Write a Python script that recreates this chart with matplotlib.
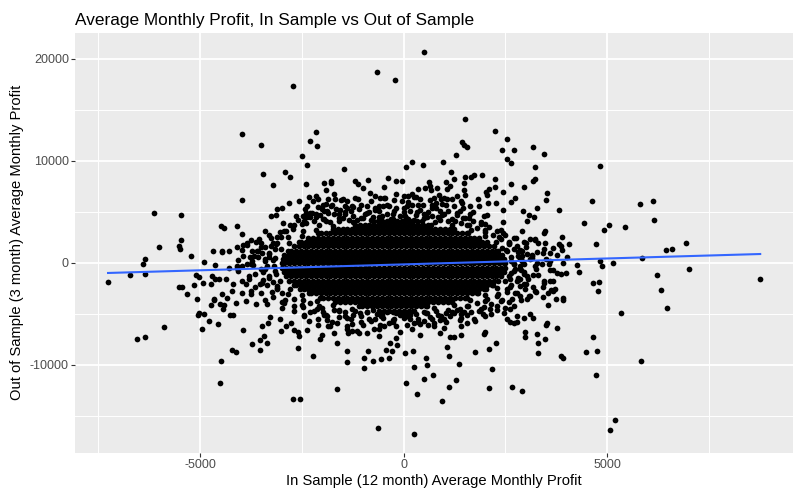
import matplotlib
matplotlib.use("Agg")
import matplotlib.pyplot as plt
import numpy as np

# ---------------------------------------------------------------------------
# Data (in sample profit, out of sample profit)
# ---------------------------------------------------------------------------
far_top = [
    (492, 20683), (-662, 18723), (-220, 17938), (-2724, 17350), (1498, 14115),
    (2234, 12938), (-3975, 12644), (-2159, 12840), (2528, 12154), (-2290, 11958),
    (-2134, 11468), (-3509, 11566), (1424, 11860), (1473, 11566), (1547, 11370),
    (2406, 11075), (2700, 11075), (3191, 11370), (3437, 10683), (1277, 10585),
    (-2497, 10487), (2536, 10193), (2627, 9801), (-2385, 9605), (50, 9409),
    (197, 9899), (467, 9605), (958, 9899), (3240, 9409), (4834, 9510),
    (-1472, 9213), (-3460, 8722), (-2920, 8918), (-2797, 8428), (1154, 8918),
    (1498, 8428), (1645, 8428), (1719, 8624), (1915, 8624), (2234, 8232),
    (-883, 8134), (-392, 8330), (1228, 8232), (3240, 8232), (3190, 8010),
]

upper_ring = [
    (-3214, 7644), (-2404, 7740), (-1962, 7840), (-1790, 8000), (-1790, 7800),
    (-1185, 7970), (-1120, 7740), (-1005, 7317), (-195, 7970), (-48, 7970),
    (-490, 7450), (2648, 7750), (2949, 7430), (-3966, 6173), (3535, 6860),
    (3510, 6100), (3813, 5160), (2742, 6340), (2643, 5980), (2921, 5095),
    (3085, 4637), (3020, 4080), (3208, 4500), (3282, 5390), (3470, 3100),
    (3453, 2905), (2430, 6925), (2251, 7450), (2071, 5880), (2259, 5880),
    (2447, 5160), (2030, 6960), (2046, 6630), (2095, 7190), (1833, 6200),
    (1490, 7840), (1490, 7120), (1506, 6600), (1425, 5815), (1629, 5550),
    (1637, 4770), (1146, 7515), (1032, 7940), (1065, 7190), (1302, 6566),
    (820, 7350), (870, 6600), (910, 6200), (950, 5715), (1065, 6200),
    (1195, 6270), (1228, 5550), (631, 7940), (656, 7480), (664, 7120),
    (754, 6340), (803, 5880), (705, 5685), (361, 7190), (533, 7350),
    (247, 6440), (394, 6200), (476, 5620), (17, 6566), (107, 6530),
    (206, 6730), (107, 5950), (-179, 6700), (-236, 6110), (-350, 5550),
    (-482, 6340), (-571, 6370), (-694, 6530), (-817, 6860), (-899, 5550),
    (-1111, 6200), (-1267, 5550), (-1430, 5550), (-1487, 6270), (-1397, 6040),
    (-1700, 6700), (-1692, 6200), (-1905, 7120), (-1864, 6270), (-1913, 5745),
    (-1790, 5550), (-2142, 6530), (-2216, 6000), (-2314, 6470), (-2256, 4900),
    (-2109, 6200), (-1986, 5685), (-1864, 4900), (-1651, 5290), (-1553, 5130),
    (-2575, 6080), (-2428, 5225), (-2371, 5550), (-2404, 4900), (-2633, 4570),
    (-2698, 3720), (-2829, 5880), (-2993, 5390), (-3115, 5225), (-3148, 4640),
    (-2723, 3265), (-2371, 4500), (-2150, 4735), (-2003, 5225), (-2935, 3100),
    (-3025, 2480), (-3107, 1960),
]

far_right = [
    (4640, 6075), (5817, 5781), (6136, 6075), (6161, 4212), (5449, 3526),
    (5057, 3722), (4934, 3232), (4443, 3918), (3903, 2546), (4075, 1860),
    (3870, 1630), (3887, 1271), (4738, 1860), (4026, 585), (3928, 6),
    (4271, -200), (4320, -885), (4001, -983), (3870, -1082), (4836, 160),
    (4885, -297), (5155, 0), (5866, 486), (6456, 1271), (6603, 1369),
    (6946, 1957), (7020, -591), (8762, -1572), (6235, -1180), (6333, -2650),
    (6480, -4415), (4664, -1964), (4811, -1866), (4787, -2748), (3928, -3435),
    (3928, -3696), (5351, -4905), (4664, -7258), (4492, -8729), (4762, -8631),
    (3870, -9154), (3928, -9350), (5842, -9611), (4738, -10984), (5204, -15396),
    (5081, -16376),
]

right_ring = [
    (3478, 1958), (3682, 1467), (3829, 1794), (3216, 2284), (3314, 1958),
    (3110, 2284), (2946, 2023), (2782, 1631), (3273, 1043), (3028, 813),
    (2905, 650), (2864, 389), (3110, 324), (3150, 716), (3420, 912),
    (3600, 977), (3780, 716), (2537, 1140), (2414, 1467), (2578, 2023),
    (3559, -4120), (3420, -3337), (3739, -3598), (3666, -2781), (3600, -1800),
    (3666, -1833), (3723, -2617), (3625, -2683), (3420, -2356), (3191, -2356),
    (3093, -3271), (2987, -2617), (2864, -1637), (2782, -1800), (3764, -985),
    (3666, -755), (3584, -100), (3396, -100), (3273, 0), (2946, -918),
    (3028, -1310), (2864, -2291), (2782, -2944), (3028, -3598), (3069, -3271),
    (2660, -3598), (2700, -4251), (2619, -4578), (2782, -5232), (2946, -5395),
    (3110, -5068), (3191, -5395), (2455, -4905), (2537, -5559), (1964, -7030),
    (2006, -6800), (1735, -5559), (2006, -5232), (2128, -4513), (2292, -4251),
    (2619, -1572), (2864, -657), (2741, -657), (2700, -167), (3780, -6376),
    (3502, -6147), (3518, -5950), (3273, -7030), (2987, -6800), (2987, -7258),
    (2700, -5886), (2782, -5820), (2619, -5820),
]

lower_ring = [
    (-2723, -13400), (-2551, -13340), (-3042, -5493), (-3025, -6700), (-2903, -6210),
    (-2600, -8336), (-2575, -7190), (-2600, -6768), (-2780, -5885), (-2698, -6600),
    (-2371, -6600), (-2224, -9153), (-2109, -6147), (-2044, -7520), (-2003, -7127),
    (-1864, -6210), (-1700, -6866), (-1635, -7910), (-1643, -12420), (-1397, -8630),
    (-1397, -9710), (-1373, -6930), (-1267, -6700), (-980, -10300), (-980, -9320),
    (-882, -8660), (-760, -9610), (-563, -9480), (-367, -9320), (-285, -8660),
    (-432, -8565), (-490, -6210), (-637, -16180), (-326, -7850), (-187, -7360),
    (-162, -8110), (26, -8826), (50, -11770), (247, -16770), (263, -10200),
    (230, -8630), (320, -12850), (492, -11376), (582, -10000), (541, -9320),
    (713, -10980), (934, -13530), (1114, -12160), (1114, -9153), (1065, -8240),
    (1277, -11470), (1367, -9900), (1130, -7258), (1245, -7320), (1400, -7060),
    (1744, -8730), (2087, -8500), (2161, -10400), (2259, -7850), (2087, -12260),
    (2651, -12160), (2905, -12550), (3290, -7846), (3314, -8826), (3486, -7520),
    (-3107, -2617), (-2944, -3924), (-2698, -4741), (-2453, -5232), (-2330, -5722),
    (-2126, -4578), (-1880, -5232), (-1635, -5885), (-1389, -6212), (-1144, -6702),
    (-899, -6866), (-735, -6539), (-244, -5558), (83, -5232), (247, -5885),
    (492, -5722), (737, -6212), (983, -5558), (1228, -4905), (1392, -4578),
    (1555, -5885),
]

left_ring = [
    (-6135, 4899), (-5472, 4703), (-3263, 4605), (-4490, 3624), (-4409, 3428),
    (-4098, 3624), (-3967, 2840), (-5472, 2251), (-5521, 1630), (-5489, 1369),
    (-6012, 1565), (-6347, 389), (-6405, -100), (-6356, -1082), (-6724, -1245),
    (-7264, -1866), (-5235, 618), (-4908, 95), (-4687, 1108), (-4474, 1108),
    (-4458, 1075), (-4294, 1108), (-4098, 1533), (-3951, 1761), (-3844, 1696),
    (-3722, 1140), (-3640, 2022), (-3509, 1925), (-3574, 1140), (-3787, 552),
    (-3722, 160), (-3590, 585), (-3476, 976), (-3312, 585), (-4638, -200),
    (-4294, -493), (-4090, -526), (-3967, -330), (-3844, -134), (-5521, -2356),
    (-5456, -2356), (-5153, -2226), (-5096, -1245), (-5030, -1376), (-4932, -1964),
    (-4744, -2127), (-4638, -1637), (-4703, -1310), (-4540, -1637), (-4376, -1637),
    (-5333, -3042), (-5088, -3533), (-4663, -3598), (-4458, -3042), (-4335, -3435),
    (-4213, -2781), (-4131, -3925), (-3967, -2944), (-3885, -3761), (-3763, -3108),
    (-3640, -4088), (-3885, -2127), (-3804, -1637), (-3476, -1964), (-5889, -6278),
    (-6356, -7258), (-6552, -7454), (-4490, -9611), (-4515, -11768), (-4957, -6474),
    (-4785, -5689), (-4564, -5984), (-5047, -5167), (-4908, -5003), (-5030, -4905),
    (-3951, -6572), (-4221, -8533), (-4131, -8729), (-3730, -7945), (-3533, -8533),
    (-3525, -7552), (-3427, -7225), (-3353, -7912), (-3337, -5885), (-3288, -5297),
    (-3484, -6180), (-4441, -4578), (-4409, -4186), (-4523, -4023), (-4736, -4121),
    (-4261, -5101), (-4196, -5101), (-4662, -3663), (-3370, -4088),
]

core_edge = [
    (-2800, 3700), (-2600, 4200), (-2400, 3900), (-2300, 4500), (-2200, 4100),
    (-2050, 4700), (-1950, 4300), (-1800, 3950), (-1700, 4800), (-1600, 4400),
    (-1450, 5000), (-1350, 4200), (-1250, 4600), (-1100, 5300), (-1000, 4400),
    (-900, 4900), (-800, 4200), (-700, 5200), (-600, 4500), (-500, 5600),
    (-400, 4800), (-300, 4300), (-200, 5400), (-100, 4600), (0, 5000),
    (100, 4300), (200, 5700), (300, 4700), (400, 5200), (500, 4400),
    (600, 5000), (700, 4600), (800, 5400), (900, 4200), (1000, 4800),
    (1100, 5100), (1200, 4300), (1300, 4700), (1400, 3900), (1500, 4400),
    (1600, 3700), (1700, 4100), (1800, 3400), (1900, 3800), (2000, 3000),
    (2100, 3500), (2200, 2700), (2300, 3100), (2400, 2300), (2500, 2700),
    (-2700, -3600), (-2500, -4200), (-2300, -4000), (-2200, -4700), (-2000, -4400),
    (-1900, -5100), (-1700, -4600), (-1600, -5300), (-1450, -4800), (-1300, -5500),
    (-1200, -4700), (-1050, -5200), (-900, -4800), (-800, -5700), (-650, -5000),
    (-500, -5400), (-400, -4800), (-250, -5800), (-100, -5100), (50, -4800),
    (150, -5500), (300, -5000), (400, -6000), (550, -4900), (650, -5300),
    (800, -4700), (900, -5600), (1050, -4900), (1150, -5200), (1300, -4600),
    (1400, -5000), (1550, -4300), (1650, -4800), (1800, -4000), (1900, -4500),
    (2050, -3600), (2150, -4100), (2300, -3300), (2400, -3800), (2550, -2900),
    (-3100, 2500), (-3200, 1900), (-3150, 1300), (-3300, 800), (-3200, 300),
    (-3350, -300), (-3150, -800), (-3300, -1300), (-3200, -1900), (-3100, -2500),
    (-3000, -3000), (-3400, 1500), (-3450, -900), (-3050, 3000),
    (2600, 1900), (2700, 1300), (2800, 700), (2650, 200), (2850, -300),
    (2700, -800), (2600, -1300), (2800, -1700), (2650, -2200), (2550, -2600),
    (2900, 1100), (2950, -1100),
]

# crowded fringe just outside the solid centre
fringe = [
    (2700, -150), (2640, 560), (2520, 1250), (2280, 2050), (2010, 2600),
    (1650, 3230), (1200, 3700), (760, 3950), (250, 4200), (-260, 4280),
    (2900, 120), (2820, 1000), (2600, 1820), (2350, 2480), (1990, 3200),
    (1550, 3720), (1100, 4100), (570, 4450), (30, 4560),
    (3220, -300), (3150, 700), (3010, 1520), (2760, 2380), (2390, 3170),
    (1990, 3780), (1470, 4360), (940, 4700), (340, 5000), (-240, 5080),
    (3600, 200), (3450, 1300), (3240, 2250), (2920, 3100), (2450, 3950),
    (1970, 4540), (1390, 5050), (730, 5470), (90, 5600),
    (-3190, -350), (-3160, 480), (-3020, 1300), (-2810, 1960), (-2500, 2660),
    (-2150, 3170), (-1730, 3620), (-1250, 4000), (-770, 4150),
    (-3400, 200), (-3300, 950), (-3130, 1800), (-2850, 2540), (-2480, 3150),
    (-2080, 3730), (-1600, 4100), (-1060, 4400), (-540, 4600),
    (-3700, -200), (-3680, 620), (-3500, 1580), (-3260, 2420), (-2900, 3120),
    (-2490, 3830), (-1980, 4300), (-1450, 4750), (-850, 4940),
    (-4070, 300), (-3980, 1230), (-3750, 2200), (-3400, 3150), (-2960, 3880),
    (-2470, 4600), (-1890, 5050), (-1240, 5470), (-600, 5580),
    (-3140, -1080), (-3030, -1780), (-2790, -2550), (-2510, -3150), (-2140, -3750),
    (-1730, -4150), (-1270, -4520), (-760, -4680), (-250, -4800),
    (-3410, -650), (-3300, -1550), (-3120, -2290), (-2850, -3070), (-2480, -3700),
    (-2070, -4210), (-1580, -4680), (-1080, -4930), (-520, -5100),
    (-3660, -1150), (-3520, -2100), (-3240, -2900), (-2910, -3700), (-2470, -4350),
    (-1990, -4840), (-1430, -5280), (-860, -5480), (-260, -5600),
    (-4080, -800), (-3960, -1820), (-3740, -2740), (-3410, -3680), (-2980, -4420),
    (-2450, -5120), (-1880, -5600), (-1260, -5990), (-580, -6150),
    (2650, -1020), (2500, -1830), (2300, -2500), (2010, -3180), (1630, -3700),
    (1230, -4190), (750, -4480), (260, -4730),
    (2890, -720), (2810, -1500), (2620, -2340), (2330, -3030), (1990, -3720),
    (1570, -4250), (1080, -4640), (570, -4970), (20, -5080),
    (3170, -1200), (3000, -2060), (2740, -2950), (2410, -3660), (1970, -4360),
    (1490, -4850), (920, -5270), (360, -5520),
    (3590, -760), (3450, -1800), (3240, -2780), (2890, -3630), (2480, -4450),
    (1950, -5080), (1380, -5640), (750, -5950), (90, -6160),
]

# second, looser fringe above, below and beside the centre
fringe_outer = [
    (-2450, 4100), (-2150, 4450), (-1900, 4050), (-1500, 4350), (-1150, 4150),
    (-750, 4450), (-350, 4050), (50, 4400), (450, 4100), (850, 4450),
    (1250, 4050), (1600, 4350), (1900, 4000),
    (-2300, 4900), (-1950, 5100), (-1600, 4750), (-1300, 5050), (-950, 4800),
    (-600, 5100), (-250, 4750), (150, 5050), (500, 4800), (900, 5100),
    (1300, 4850), (1700, 5000), (2050, 4700),
    (-2100, 5450), (-1750, 5700), (-1400, 5350), (-1050, 5650), (-700, 5400),
    (-400, 5700), (0, 5350), (350, 5650), (700, 5400), (1050, 5700),
    (1450, 5350), (1850, 5600),
    (-1550, 6100), (-1200, 6350), (-800, 6000), (-450, 6300), (-50, 6050),
    (300, 6400), (650, 6100), (1000, 6350), (1400, 6000),
    (-2300, -4800), (-1950, -5150), (-1600, -4750), (-1250, -5100), (-900, -4850),
    (-550, -5200), (-200, -4900), (150, -5150), (500, -4800), (850, -5150),
    (1200, -4850), (1550, -5100), (1850, -4750), (2150, -5000),
    (-2100, -5500), (-1750, -5850), (-1400, -5450), (-1050, -5800), (-700, -5500),
    (-350, -5900), (0, -5450), (350, -5800), (700, -5500), (1050, -5850),
    (1400, -5450), (1750, -5700),
    (-1800, -6200), (-1400, -6550), (-1000, -6150), (-600, -6500), (-200, -6200),
    (200, -6550), (600, -6150), (1000, -6450), (1400, -6250),
    (-1100, -6900), (-600, -7150), (-100, -6850), (400, -7100), (900, -6900),
    (-3300, 2700), (-3550, 2300), (-3250, 1650), (-3600, 1100), (-3400, 400),
    (-3750, -100), (-3500, -600), (-3800, -1300), (-3450, -1700), (-3650, -2400),
    (-3350, -2200), (-3500, -3000), (-3200, -3400), (-3000, -3900), (-2700, -4300),
    (-3950, 700), (-3850, 1900), (-4200, -2100), (-4100, -300),
    (2700, 2400), (3000, 1900), (2850, 1200), (3150, 500), (2950, -100),
    (3250, -600), (3050, -1600), (3300, -1200), (2950, -2100), (3250, -2900),
    (2850, -3300), (2600, -3900), (2300, -4600), (3500, 400), (3450, -2000),
    (2450, 2900), (3550, -3000),
]

# the solid black centre: overlapping points, one row per out of sample level
core_y = [4120, 3700, 3280, 2860, 2440, 2020, 1600, 1180, 760, 340, -80,
          -500, -920, -1340, -1760, -2180, -2600, -3020, -3440, -3860, -4280, -4700]
core_x = [
    [-760, -640, -520, -400, -280, -160, -40, 80, 200, 320],
    [-1200, -1080, -960, -840, -720, -600, -480, -360, -240, -120, 0, 120, 240, 360, 480, 600, 680],
    [-1740, -1620, -1500, -1380, -1260, -1140, -1020, -900, -780, -660, -540, -420, -300, -180, -60,
     60, 180, 300, 420, 540, 660, 780, 900, 1020, 1140, 1235],
    [-2100, -2040, -1920, -1800, -1680, -1560, -1440, -1320, -1200, -1080, -960, -840, -720, -600,
     -480, -360, -240, -120, 0, 120, 240, 360, 480, 600, 720, 840, 960, 1080, 1200, 1320, 1440,
     1560, 1590],
    [-2340, -2220, -2100, -1980, -1860, -1740, -1620, -1500, -1380, -1260, -1140, -1020, -900, -780,
     -660, -540, -420, -300, -180, -60, 60, 180, 300, 420, 540, 660, 780, 900, 1020, 1140, 1260,
     1380, 1500, 1620, 1740, 1860],
    [-2565, -2520, -2400, -2280, -2160, -2040, -1920, -1800, -1680, -1560, -1440, -1320, -1200,
     -1080, -960, -840, -720, -600, -480, -360, -240, -120, 0, 120, 240, 360, 480, 600, 720, 840,
     960, 1080, 1200, 1320, 1440, 1560, 1680, 1800, 1920, 2040],
    [-2700, -2580, -2460, -2340, -2220, -2100, -1980, -1860, -1740, -1620, -1500, -1380, -1260,
     -1140, -1020, -900, -780, -660, -540, -420, -300, -180, -60, 60, 180, 300, 420, 540, 660, 780,
     900, 1020, 1140, 1260, 1380, 1500, 1620, 1740, 1860, 1980, 2100, 2220],
    [-2835, -2760, -2640, -2520, -2400, -2280, -2160, -2040, -1920, -1800, -1680, -1560, -1440,
     -1320, -1200, -1080, -960, -840, -720, -600, -480, -360, -240, -120, 0, 120, 240, 360, 480,
     600, 720, 840, 960, 1080, 1200, 1320, 1440, 1560, 1680, 1800, 1920, 2040, 2160, 2280, 2330],
    [-2940, -2820, -2700, -2580, -2460, -2340, -2220, -2100, -1980, -1860, -1740, -1620, -1500,
     -1380, -1260, -1140, -1020, -900, -780, -660, -540, -420, -300, -180, -60, 60, 180, 300, 420,
     540, 660, 780, 900, 1020, 1140, 1260, 1380, 1500, 1620, 1740, 1860, 1980, 2100, 2220, 2340,
     2415],
    [-2975, -2880, -2760, -2640, -2520, -2400, -2280, -2160, -2040, -1920, -1800, -1680, -1560,
     -1440, -1320, -1200, -1080, -960, -840, -720, -600, -480, -360, -240, -120, 0, 120, 240, 360,
     480, 600, 720, 840, 960, 1080, 1200, 1320, 1440, 1560, 1680, 1800, 1920, 2040, 2160, 2280,
     2400, 2470],
    [-3000, -2940, -2820, -2700, -2580, -2460, -2340, -2220, -2100, -1980, -1860, -1740, -1620,
     -1500, -1380, -1260, -1140, -1020, -900, -780, -660, -540, -420, -300, -180, -60, 60, 180, 300,
     420, 540, 660, 780, 900, 1020, 1140, 1260, 1380, 1500, 1620, 1740, 1860, 1980, 2100, 2220,
     2340, 2460, 2495],
    [-3000, -2880, -2760, -2640, -2520, -2400, -2280, -2160, -2040, -1920, -1800, -1680, -1560,
     -1440, -1320, -1200, -1080, -960, -840, -720, -600, -480, -360, -240, -120, 0, 120, 240, 360,
     480, 600, 720, 840, 960, 1080, 1200, 1320, 1440, 1560, 1680, 1800, 1920, 2040, 2160, 2280,
     2400, 2490],
    [-2940, -2820, -2700, -2580, -2460, -2340, -2220, -2100, -1980, -1860, -1740, -1620, -1500,
     -1380, -1260, -1140, -1020, -900, -780, -660, -540, -420, -300, -180, -60, 60, 180, 300, 420,
     540, 660, 780, 900, 1020, 1140, 1260, 1380, 1500, 1620, 1740, 1860, 1980, 2100, 2220, 2340,
     2460],
    [-2880, -2760, -2640, -2520, -2400, -2280, -2160, -2040, -1920, -1800, -1680, -1560, -1440,
     -1320, -1200, -1080, -960, -840, -720, -600, -480, -360, -240, -120, 0, 120, 240, 360, 480,
     600, 720, 840, 960, 1080, 1200, 1320, 1440, 1560, 1680, 1800, 1920, 2040, 2160, 2280, 2400],
    [-2820, -2700, -2580, -2460, -2340, -2220, -2100, -1980, -1860, -1740, -1620, -1500, -1380,
     -1260, -1140, -1020, -900, -780, -660, -540, -420, -300, -180, -60, 60, 180, 300, 420, 540,
     660, 780, 900, 1020, 1140, 1260, 1380, 1500, 1620, 1740, 1860, 1980, 2100, 2220, 2320],
    [-2700, -2640, -2520, -2400, -2280, -2160, -2040, -1920, -1800, -1680, -1560, -1440, -1320,
     -1200, -1080, -960, -840, -720, -600, -480, -360, -240, -120, 0, 120, 240, 360, 480, 600, 720,
     840, 960, 1080, 1200, 1320, 1440, 1560, 1680, 1800, 1920, 2040, 2160, 2195],
    [-2540, -2460, -2340, -2220, -2100, -1980, -1860, -1740, -1620, -1500, -1380, -1260, -1140,
     -1020, -900, -780, -660, -540, -420, -300, -180, -60, 60, 180, 300, 420, 540, 660, 780, 900,
     1020, 1140, 1260, 1380, 1500, 1620, 1740, 1860, 1980, 2035],
    [-2335, -2280, -2160, -2040, -1920, -1800, -1680, -1560, -1440, -1320, -1200, -1080, -960, -840,
     -720, -600, -480, -360, -240, -120, 0, 120, 240, 360, 480, 600, 720, 840, 960, 1080, 1200,
     1320, 1440, 1560, 1680, 1800, 1830],
    [-2060, -1980, -1860, -1740, -1620, -1500, -1380, -1260, -1140, -1020, -900, -780, -660, -540,
     -420, -300, -180, -60, 60, 180, 300, 420, 540, 660, 780, 900, 1020, 1140, 1260, 1380, 1500,
     1555],
    [-1680, -1560, -1440, -1320, -1200, -1080, -960, -840, -720, -600, -480, -360, -240, -120, 0,
     120, 240, 360, 480, 600, 720, 840, 960, 1080, 1180],
    [-1090, -1020, -900, -780, -660, -540, -420, -300, -180, -60, 60, 180, 300, 420, 540, 585],
    [-600, -480, -360, -240, -120, 0, 120, 240],
]

# linear fit drawn by geom_smooth(method = "lm")
fit_slope = 0.116
fit_intercept = -170

# ---------------------------------------------------------------------------
scattered = (far_top + upper_ring + far_right + right_ring + lower_ring
             + left_ring + core_edge + fringe + fringe_outer)
x_in = [p[0] for p in scattered]
y_out = [p[1] for p in scattered]
for yv, row in zip(core_y, core_x):
    x_in += row
    y_out += [yv] * len(row)
x_in = np.array(x_in, dtype=float)
y_out = np.array(y_out, dtype=float)

plt.rcParams["font.family"] = ["Liberation Sans", "DejaVu Sans"]
plt.rcParams["axes.unicode_minus"] = False

fig = plt.figure(figsize=(8, 5), dpi=100)
ax = fig.add_axes([0.0943, 0.0946, 0.8967, 0.84])
ax.set_facecolor("#EBEBEB")
for s in ax.spines.values():
    s.set_visible(False)

ax.scatter(x_in, y_out, s=17, c="black", linewidths=0, zorder=3)

fx = np.array([x_in.min(), x_in.max()])
ax.plot(fx, fit_intercept + fit_slope * fx, color="#3366FF", lw=1.5, zorder=4)

ax.margins(0.05)
ax.set_xticks([-5000, 0, 5000])
ax.set_xticks([-7500, -2500, 2500, 7500], minor=True)
ax.set_yticks([-10000, 0, 10000, 20000])
ax.set_yticks([-15000, -5000, 5000, 15000], minor=True)
ax.grid(which="major", color="white", lw=1.35, zorder=1)
ax.grid(which="minor", color="white", lw=0.7, zorder=1)
ax.set_axisbelow(True)
ax.tick_params(which="major", length=2.7, width=0.8, color="#333333",
               labelcolor="#4D4D4D", labelsize=9, pad=2)
ax.tick_params(which="minor", length=0)

ax.set_title("Average Monthly Profit, In Sample vs Out of Sample", loc="left",
             fontsize=12.4, pad=5.5, color="black")
ax.set_xlabel("In Sample (12 month) Average Monthly Profit", fontsize=10.6, labelpad=2)
ax.set_ylabel("Out of Sample (3 month) Average Monthly Profit", fontsize=10.6, labelpad=4)

fig.savefig("out.png", dpi=100)
